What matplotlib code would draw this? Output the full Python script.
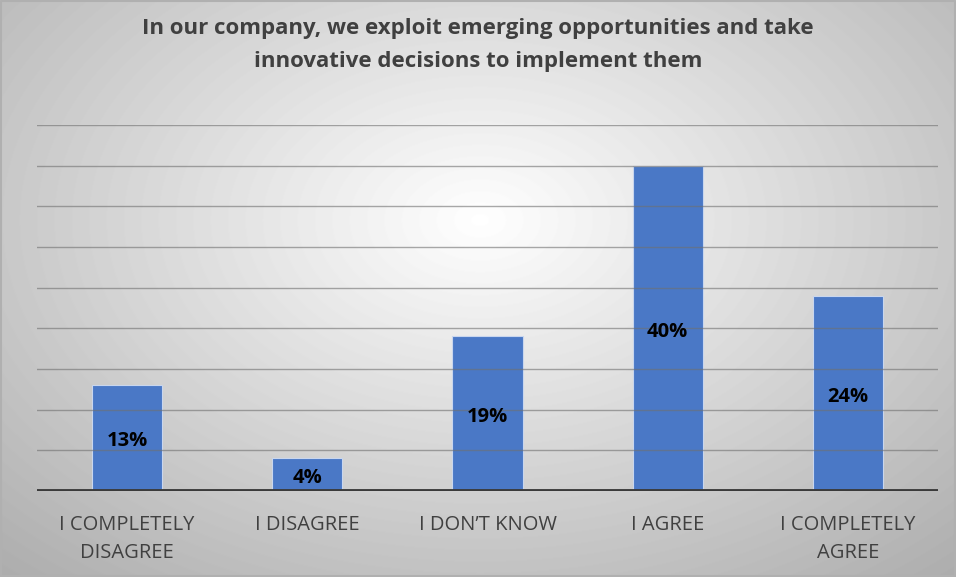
import numpy as np
from matplotlib import pyplot as plt

categories = ['I COMPLETELY\nDISAGREE', 'I DISAGREE', 'I DON\u2019T KNOW', 'I AGREE', 'I COMPLETELY\nAGREE']
values = [13, 4, 19, 40, 24]
labels = ['13%', '4%', '19%', '40%', '24%']
title = 'In our company, we exploit emerging opportunities and take\ninnovative decisions to implement them'

plt.rcParams['font.family'] = ['Open Sans', 'DejaVu Sans']

fig = plt.figure(figsize=(9.56, 5.77), dpi=100)

# radial gradient background
bg = fig.add_axes([0, 0, 1, 1], zorder=-1)
h, w = 577, 956
yy, xx = np.mgrid[0:h, 0:w]
r = np.sqrt(((xx - 480) / 600.0) ** 2 + ((yy - 220) / 400.0) ** 2)
shade = np.clip(1.0 - 0.27 * r, 0, 1)
bg.imshow(shade, cmap='gray', vmin=0, vmax=1, aspect='auto', extent=[0, 1, 0, 1])
bg.plot([0.001, 0.999, 0.999, 0.001, 0.001], [0.001, 0.001, 0.999, 0.999, 0.001],
        color='#b0b0b0', lw=1.5)
bg.set_xlim(0, 1)
bg.set_ylim(0, 1)
bg.axis('off')

ax = fig.add_axes([37 / 956, 86 / 577, 901 / 956, 366 / 577])
ax.patch.set_alpha(0)
x = np.arange(len(values))
bars = ax.bar(x, values, width=0.39, color='#4a78c6', edgecolor='#c9d6ee', linewidth=0.8, zorder=2)
for b, lab in zip(bars, labels):
    ax.text(b.get_x() + b.get_width() / 2, b.get_height() / 2 - 0.4, lab,
            ha='center', va='center', fontsize=14.5, fontweight='bold', color='black', zorder=4)

ax.set_xlim(-0.5, len(values) - 0.5)
ax.set_ylim(0, 45)
ax.set_yticks(np.arange(5, 46, 5))
for yv in np.arange(5, 46, 5):
    ax.axhline(yv, color='#707070', lw=1.0, alpha=0.6, zorder=3)
ax.axhline(0, color='#3a3a3a', lw=3.5, zorder=5)
ax.tick_params(left=False, labelleft=False, bottom=False)
ax.set_xticks(x)
ax.set_xticklabels(categories, fontsize=14.5, color='#404040', linespacing=1.5)
ax.tick_params(axis='x', pad=14)
for s in ax.spines.values():
    s.set_visible(False)

fig.text(0.5, 0.968, title, ha='center', va='top', fontsize=16, fontweight='bold',
         color='#404040', linespacing=1.75)

fig.savefig('out.png', dpi=100)
